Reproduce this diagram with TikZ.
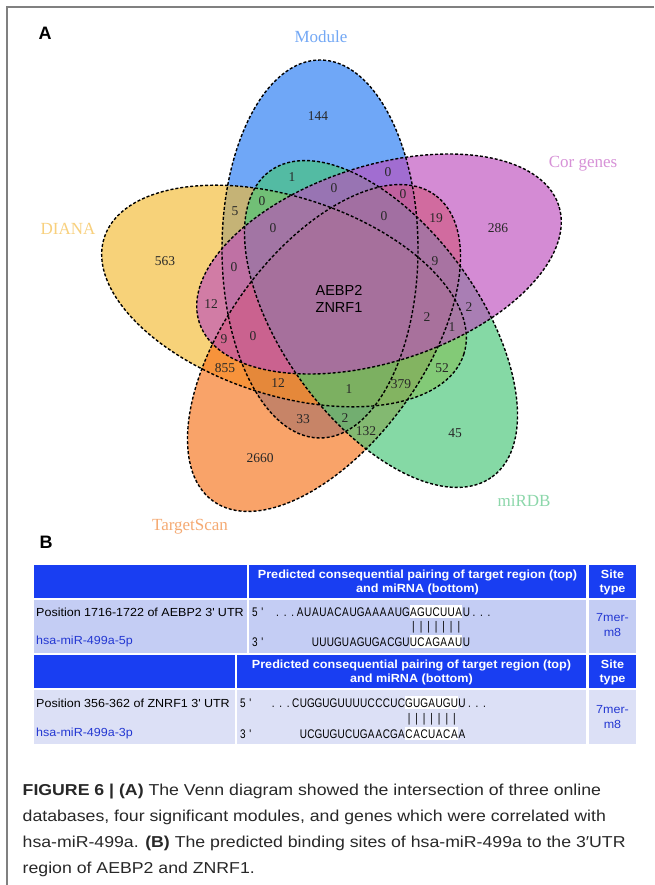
\documentclass[tikz,border=0pt]{standalone}
\usepackage{fontspec}
\setmainfont{Liberation Sans}
\newfontfamily\vennserif{Liberation Serif}
\newfontfamily\tabfont[FakeStretch=1.07]{Liberation Sans}
\newfontfamily\seqfont[FakeStretch=0.8]{Liberation Sans}
\newfontfamily\capfont[FakeStretch=1.12]{Liberation Sans}
\makeatletter
\newcommand\spacedseq[1]{\@tfor\seqch:=#1\do{\makebox[7.55pt]{\seqch}}}
\makeatother
\definecolor{modc}{RGB}{35,121,244}
\definecolor{corc}{RGB}{189,78,189}
\definecolor{diac}{RGB}{244,186,50}
\definecolor{tsc}{RGB}{247,114,26}
\definecolor{mirc}{RGB}{69,198,118}
\definecolor{modl}{RGB}{115,168,245}
\definecolor{corl}{RGB}{215,145,215}
\definecolor{dial}{RGB}{248,208,125}
\definecolor{tsl}{RGB}{245,170,115}
\definecolor{mirl}{RGB}{140,215,170}
\definecolor{numgray}{RGB}{40,40,40}
\definecolor{hdrblue}{RGB}{25,62,242}
\definecolor{bodyA}{RGB}{196,205,244}
\definecolor{bodyB}{RGB}{220,224,246}
\definecolor{seqblue}{RGB}{35,55,210}
\definecolor{capgray}{RGB}{40,40,40}
\definecolor{framegray}{RGB}{128,128,128}
\begin{document}
\begin{tikzpicture}[x=1pt,y=-1pt,
  vfill/.style={fill opacity=0.65},
  vline/.style={dash pattern=on 3pt off 2pt, line width=1.4pt, black},
  num/.style={font=\vennserif\fontsize{13.5}{15}\selectfont, text=numgray, inner sep=0pt},
  setlab/.style={font=\vennserif\fontsize{17}{19}\selectfont, inner sep=0pt},
  panel/.style={font=\bfseries\fontsize{18}{20}\selectfont, inner sep=0pt},
  hdrtxt/.style={font=\tabfont\bfseries\fontsize{11.8}{14}\selectfont, text=white, align=center, inner sep=0pt},
  bodytxt/.style={font=\tabfont\fontsize{11.7}{14}\selectfont, inner sep=0pt, anchor=west},
  seqtxt/.style={font=\seqfont\fontsize{12.5}{14}\selectfont, inner sep=0pt, anchor=base west},
  captxt/.style={font=\capfont\fontsize{15.8}{18}\selectfont, text=capgray, inner sep=0pt, anchor=base west}
]
\useasboundingbox (0,0) rectangle (654,885);
\fill[white] (0,0) rectangle (654,885);
\draw[framegray, line width=1.2pt] (654,7) -- (7,7) -- (7,885);

% ---------- Venn fills ----------
\path[fill=modc, vfill] (320,249) ellipse [x radius=98pt, y radius=189pt];
\path[fill=diac, vfill, rotate around={-18:(284,296)}] (284,296) ellipse [x radius=189pt, y radius=99pt];
\path[fill=tsc, vfill, rotate around={54:(324,348)}] (324,348) ellipse [x radius=189pt, y radius=98pt];
\path[fill=mirc, vfill, rotate around={-54:(381,324)}] (381,324) ellipse [x radius=189pt, y radius=98pt];
\path[fill=corc, vfill, rotate around={18:(379,264)}] (379,264) ellipse [x radius=189pt, y radius=98pt];
% ---------- Venn outlines ----------
\draw[vline] (320,249) ellipse [x radius=98pt, y radius=189pt];
\draw[vline, rotate around={-18:(284,296)}] (284,296) ellipse [x radius=189pt, y radius=99pt];
\draw[vline, rotate around={54:(324,348)}] (324,348) ellipse [x radius=189pt, y radius=98pt];
\draw[vline, rotate around={-54:(381,324)}] (381,324) ellipse [x radius=189pt, y radius=98pt];
\draw[vline, rotate around={18:(379,264)}] (379,264) ellipse [x radius=189pt, y radius=98pt];

% ---------- set labels ----------
\node[setlab, text=modl] (lmod) at (321,37) {Module};
\node[setlab, text=corl] (lcor) at (583,164) {Cor genes};
\node[setlab, text=dial] (ldia) at (68,229) {DIANA};
\node[setlab, text=tsl] (lts) at (190,527) {TargetScan};
\node[setlab, text=mirl] (lmir) at (524,501) {miRDB};
\node[panel] (pA) at (45,33) {A};
\node[panel] (pB) at (46,542) {B};

% ---------- region counts ----------
\node[num] (r1) at (318,116) {144};
\node[num] (r2) at (498,228) {286};
\node[num] (r3) at (165,261) {563};
\node[num] (r4) at (260,458) {2660};
\node[num] (r5) at (455,433) {45};
\node[num] (r6) at (292,177) {1};
\node[num] (r7) at (235,211) {5};
\node[num] (r8) at (262,201) {0};
\node[num] (r9) at (388,172) {0};
\node[num] (r10) at (403,194) {0};
\node[num] (r11) at (436,218) {19};
\node[num] (r12) at (334,188) {0};
\node[num] (r13) at (384,216) {0};
\node[num] (r14) at (273,228) {0};
\node[num] (r15) at (435,261) {9};
\node[num] (r16) at (234,267) {0};
\node[num] (r17) at (211,304) {12};
\node[num] (r18) at (224,339) {9};
\node[num] (r19) at (253,336) {0};
\node[num] (r20) at (225,368) {855};
\node[num] (r21) at (278,383) {12};
\node[num] (r22) at (469,307) {2};
\node[num] (r23) at (427,317) {2};
\node[num] (r24) at (452,327) {1};
\node[num] (r25) at (442,368) {52};
\node[num] (r26) at (401,384) {379};
\node[num] (r27) at (349,389) {1};
\node[num] (r28) at (303,419) {33};
\node[num] (r29) at (345,418) {2};
\node[num] (r30) at (366,431) {132};
\node[font=\fontsize{14.5}{17}\selectfont, align=center, inner sep=0pt] (center) at (339,298.5) {AEBP2\\ZNRF1};

% ---------- table 1 ----------
\fill[hdrblue] (34,565) rectangle (247,598);
\fill[hdrblue] (249,565) rectangle (586,598);
\fill[hdrblue] (589,565) rectangle (636,598);
\fill[bodyA] (34,600) rectangle (247,653);
\fill[bodyA] (249,600) rectangle (586,653);
\fill[bodyA] (589,600) rectangle (636,653);
\node[hdrtxt] (h1) at (417.5,582) {Predicted consequential pairing of target region (top)\\and miRNA (bottom)};
\node[hdrtxt] (h1s) at (612.5,582) {Site\\type};
\node[bodytxt] (p1) at (36,612) {Position 1716-1722 of AEBP2 3\textquotesingle{} UTR};
\node[bodytxt, text=seqblue] (m1) at (36,641) {hsa-miR-499a-5p};
\node[font=\tabfont\fontsize{11.7}{15}\selectfont, text=seqblue, align=center, inner sep=0pt] (st1) at (612.5,625.5) {7mer-\\m8};
\fill[white] ({251+21*7.55},605) rectangle ({251+28*7.55},618);
\fill[white] ({251+21*7.55},635) rectangle ({251+28*7.55},648);
\node[seqtxt] (s1t) at (251,616.5) {\spacedseq{5\textquotesingle~...AUAUACAUGAAAAUGAGUCUUAU...}};
\node[seqtxt] (s1p) at ({251+21*7.55},630.5) {\spacedseq{|||||||}};
\node[seqtxt] (s1b) at (251,646) {\spacedseq{3\textquotesingle~~~~~~UUUGUAGUGACGUUCAGAAUU}};

% ---------- table 2 ----------
\fill[hdrblue] (34,655) rectangle (235,688);
\fill[hdrblue] (237,655) rectangle (586,688);
\fill[hdrblue] (589,655) rectangle (636,688);
\fill[bodyB] (34,690) rectangle (235,744);
\fill[bodyB] (237,690) rectangle (586,744);
\fill[bodyB] (589,690) rectangle (636,744);
\node[hdrtxt] (h2) at (411.5,672.5) {Predicted consequential pairing of target region (top)\\and miRNA (bottom)};
\node[hdrtxt] (h2s) at (612.5,672.5) {Site\\type};
\node[bodytxt] (p2) at (36,703) {Position 356-362 of ZNRF1 3\textquotesingle{} UTR};
\node[bodytxt, text=seqblue] (m2) at (36,733) {hsa-miR-499a-3p};
\node[font=\tabfont\fontsize{11.7}{15}\selectfont, text=seqblue, align=center, inner sep=0pt] (st2) at (612.5,717.5) {7mer-\\m8};
\fill[white] ({239+22*7.55},696) rectangle ({239+29*7.55},709);
\fill[white] ({239+22*7.55},726.5) rectangle ({239+29*7.55},739.5);
\node[seqtxt] (s2t) at (239,707.5) {\spacedseq{5\textquotesingle~~...CUGGUGUUUUCCCUCGUGAUGUU...}};
\node[seqtxt] (s2p) at ({239+22*7.55},722.5) {\spacedseq{|||||||}};
\node[seqtxt] (s2b) at (239,738) {\spacedseq{3\textquotesingle~~~~~~UCGUGUCUGAACGACACUACAA}};

% ---------- caption ----------
\node[captxt] (c1) at (22.5,795.7) {\textbf{FIGURE 6 | (A)} The Venn diagram showed the intersection of three online};
\node[captxt] (c2) at (22.5,821.5) {databases, four significant modules, and genes which were correlated with};
\node[captxt] (c3) at (22.5,847.3) {hsa-miR-499a. \textbf{(B)} The predicted binding sites of hsa-miR-499a to the 3′UTR};
\node[captxt] (c4) at (22.5,873) {region of AEBP2 and ZNRF1.};
\end{tikzpicture}
\end{document}
